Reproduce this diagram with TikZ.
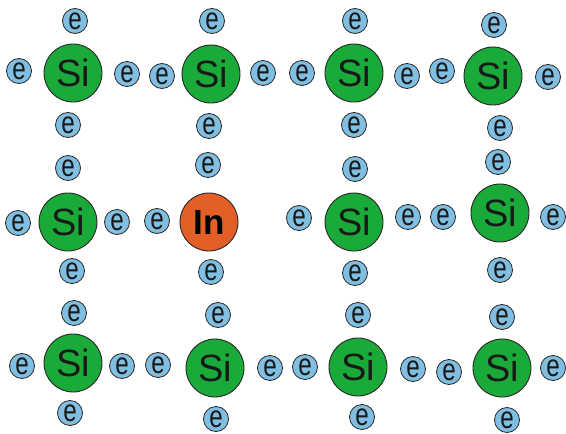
\documentclass[tikz,border=0pt]{standalone}
\usepackage{fontspec}
\setmainfont{Liberation Sans}
\definecolor{sigreen}{RGB}{26,170,58}
\definecolor{inorange}{RGB}{226,96,40}
\definecolor{eblue}{RGB}{128,190,226}
\definecolor{txt}{RGB}{25,25,25}
\begin{document}
\begin{tikzpicture}[x=1pt,y=-1pt,
  atom/.style={circle,draw=black!85,line width=0.9pt,minimum size=58pt,inner sep=0pt,
    text=txt,font=\fontsize{38}{38}\selectfont},
  si/.style={atom,fill=sigreen},
  ind/.style={atom,fill=inorange,text=black,font=\fontsize{35}{35}\selectfont\bfseries},
  elec/.style={circle,draw=black!85,line width=0.8pt,fill=eblue,minimum size=25pt,inner sep=0pt,
    text=txt,font=\fontsize{31}{31}\selectfont}]
\useasboundingbox (0,0) rectangle (566,434);
% atoms
\node[si] (a11) at (73,73) {Si};
\node[si] (a12) at (211,74) {Si};
\node[si] (a13) at (354,73) {Si};
\node[si] (a14) at (493,76) {Si};
\node[si] (a21) at (68,222) {Si};
\node[ind] (a22) at (209,222) {In};
\node[si] (a23) at (354,222) {Si};
\node[si] (a24) at (500,213) {Si};
\node[si] (a31) at (73,363) {Si};
\node[si] (a32) at (215,368) {Si};
\node[si] (a33) at (358,367) {Si};
\node[si] (a34) at (502,368) {Si};
% electrons
\foreach \n/\x/\y in {
  e1/75/21, e2/19/71, e3/127/74, e4/68/125,
  e5/162/76, e6/212/21, e7/263/73, e8/209/126,
  e9/302/73, e10/355/21, e11/407/76, e12/354/125,
  e13/442/71, e14/494/25, e15/548/77, e16/500/128,
  e17/68/168, e18/18/223, e19/117/222, e20/72/271,
  e21/208/165, e22/157/221, e23/211/272,
  e24/355/169, e25/299/218, e26/408/217, e27/355/273,
  e28/498/162, e29/443/217, e30/553/217, e31/500/270,
  e32/74/313, e33/22/366, e34/122/366, e35/70/413,
  e36/218/315, e37/158/365, e38/270/368, e39/216/419,
  e40/358/315, e41/305/367, e42/413/369, e43/362/417,
  e44/502/317, e45/449/372, e46/553/368, e47/507/420}
  \node[elec] (\n) at (\x,\y) {\scalebox{0.78}[1]{e}};
\end{tikzpicture}
\end{document}
